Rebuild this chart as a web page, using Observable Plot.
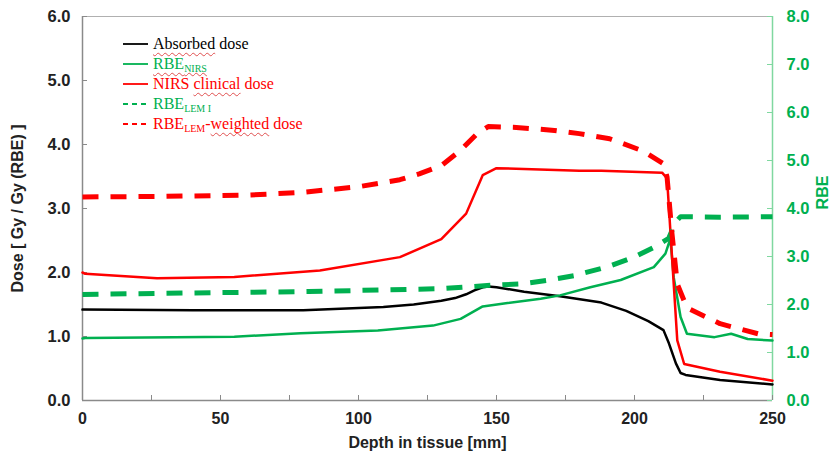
<!DOCTYPE html>
<html><head><meta charset="utf-8">
<script src="https://cdn.jsdelivr.net/npm/d3@7"></script>
<script src="https://cdn.jsdelivr.net/npm/@observablehq/plot@0.6"></script>
<style>
body{margin:0;background:#fff}
#wrap{position:relative;width:833px;height:459px}
#legend{position:absolute;left:123px;top:34px;font-family:"Liberation Serif","Times New Roman",serif;font-size:16px;line-height:20px}
.row{display:flex;align-items:center;height:20px;white-space:nowrap}
.row svg{margin-right:5px;flex:none}
sub{font-size:10px;vertical-align:-3px;line-height:0}
.sq{text-decoration:underline wavy #e05050;text-decoration-thickness:1px;text-underline-offset:3px}
</style></head><body><div id="wrap"><div id="legend"></div></div>
<script>
// ---- data (depth in mm) ----
const absorbedX = [0,40,80,109,120,130,135,139,142,145,147,150,160,173,188,197,205,210.5,212.5,215,216.7,218.5,231,250];
const absorbedY = [1.42,1.41,1.41,1.46,1.50,1.56,1.60,1.66,1.72,1.77,1.78,1.77,1.70,1.63,1.53,1.40,1.24,1.10,0.89,0.58,0.43,0.40,0.32,0.25];

const rbeNirsX = [0,1,55,79,107,127,137,145,154,166,173,184,195,207,211.2,213,214.2,216.7,219,229,235,241,250];
const rbeNirsY = [1.29,1.30,1.33,1.40,1.46,1.56,1.70,1.96,2.03,2.12,2.19,2.36,2.51,2.78,3.06,3.37,2.57,1.74,1.39,1.32,1.39,1.28,1.25];

const nirsDoseX = [0,1,27,55,86,115,130,139,145,150,180,188,210,211.8,215.5,218,231,250];
const nirsDoseY = [2.00,1.98,1.91,1.93,2.03,2.24,2.52,2.92,3.52,3.63,3.59,3.59,3.56,3.47,0.94,0.57,0.45,0.31];

const rbeLemX = [0,40,82,130,148,159,168,178,190,200,208,212.4,214.9,216.7,231,250];
const rbeLemY = [2.21,2.24,2.27,2.33,2.40,2.43,2.50,2.60,2.78,2.99,3.22,3.38,3.72,3.83,3.82,3.83];

const lemDoseX = [0,30,60,79,100,115,122,130,137,143,147,156,171,180,191,203,210.5,211.8,213.6,215.5,219,231,245,250];
const lemDoseY = [3.18,3.19,3.21,3.25,3.34,3.45,3.54,3.67,3.91,4.17,4.28,4.27,4.22,4.17,4.09,3.90,3.70,3.49,2.60,1.82,1.45,1.20,1.04,1.03];

const xTickLabels = [0,50,100,150,200,250];
const xTickMarks = [0,25,50,75,100,125,150,175,200,225,250];
const doseTicks = [0,1,2,3,4,5,6];
const rbeTicks = [0,1,2,3,4,5,6,7,8];

const legendHtml = [
  '<span class="sq">Absorbed</span> dose',
  '<span class="sq">RBE<sub>NIRS</sub></span>',
  'NIRS <span class="sq">clinical</span> dose',
  'RBE<sub>LEM I</sub>',
  'RBE<sub>LEM</sub>-<span class="sq">weighted</span> dose'
];
const legendColors = ["#000000","#00b050","#ff0000","#00b050","#ff0000"];
const legendDashed = [false,false,false,true,true];

// ---- chart ----
const k = 6/8; // RBE axis (0-8) mapped onto dose axis (0-6)
const W=833,H=459,mL=82,mR=61,mT=16,mB=59;
const pw=W-mL-mR, ph=H-mT-mB;
const gray="#8a8a8a", green="#00b050", red="#ff0000", lightGreen="#80d8a0";
const pts=(xs,ys,f=1)=>xs.map((x,i)=>({x,y:ys[i]*f}));
const dash="16,12";

const plot = Plot.plot({
  width:W,height:H,marginLeft:mL,marginRight:mR,marginTop:mT,marginBottom:mB,
  x:{domain:[0,250]}, y:{domain:[0,6]},
  style:{fontFamily:"'Liberation Sans',Arial,sans-serif",background:"#fff"},
  marks:[
    Plot.ruleY([6],{stroke:"#b0b0b0",strokeWidth:1}),
    Plot.ruleY([0],{stroke:gray,strokeWidth:1.5}),
    Plot.ruleX([0],{stroke:gray,strokeWidth:1.5}),
    Plot.ruleX([250],{stroke:lightGreen,strokeWidth:1.5}),
    Plot.tickX(xTickMarks,{x:d=>d,stroke:gray,insetTop:ph-5}),
    Plot.tickY(doseTicks,{y:d=>d,stroke:gray,insetRight:pw-5}),
    Plot.tickY(rbeTicks,{y:d=>d*k,stroke:lightGreen,insetLeft:pw-5}),
    Plot.axisX({ticks:xTickLabels,tickSize:0,tickPadding:12,fontSize:16,fontWeight:"bold",fill:"#222",label:null}),
    Plot.axisY({ticks:doseTicks,tickFormat:d=>d.toFixed(1),tickSize:0,tickPadding:12,fontSize:16.5,fontWeight:"bold",fill:"#222",label:null}),
    Plot.axisY({anchor:"right",ticks:rbeTicks.map(v=>v*k),tickFormat:d=>(d/k).toFixed(1),tickSize:0,tickPadding:14,fontSize:16.5,fontWeight:"bold",fill:green,label:null}),
    Plot.text(["Dose [ Gy / Gy (RBE) ]"],{frameAnchor:"left",textAnchor:"middle",dx:-65,dy:0,rotate:-90,fontSize:16,fontWeight:"bold",fill:"#222"}),
    Plot.text(["RBE"],{frameAnchor:"right",textAnchor:"middle",dx:50,dy:-16,rotate:-90,fontSize:16,fontWeight:"bold",fill:green}),
    Plot.text(["Depth in tissue [mm]"],{frameAnchor:"bottom",dy:47,fontSize:16,fontWeight:"bold",fill:"#222"}),
    Plot.line(pts(absorbedX,absorbedY),{x:"x",y:"y",stroke:"#000",strokeWidth:2.5}),
    Plot.line(pts(rbeNirsX,rbeNirsY,k),{x:"x",y:"y",stroke:green,strokeWidth:2.5}),
    Plot.line(pts(nirsDoseX,nirsDoseY),{x:"x",y:"y",stroke:red,strokeWidth:2.5}),
    Plot.line(pts(rbeLemX,rbeLemY,k),{x:"x",y:"y",stroke:green,strokeWidth:5,strokeDasharray:dash,strokeLinecap:"butt"}),
    Plot.line(pts(lemDoseX,lemDoseY),{x:"x",y:"y",stroke:red,strokeWidth:5,strokeDasharray:dash,strokeLinecap:"butt"})
  ]
});
document.getElementById("wrap").prepend(plot);

const lg=document.getElementById("legend");
legendHtml.forEach((h,i)=>{
  const row=document.createElement("div");
  row.className="row";
  row.style.color=legendColors[i];
  row.innerHTML=`<svg width="25" height="6"><line x1="0" y1="3" x2="25" y2="3" stroke="${legendColors[i]}" stroke-width="${legendDashed[i]?2:1.8}" ${legendDashed[i]?'stroke-dasharray="5,4"':''}/></svg><span>${h}</span>`;
  lg.appendChild(row);
});
</script>
</body></html>
